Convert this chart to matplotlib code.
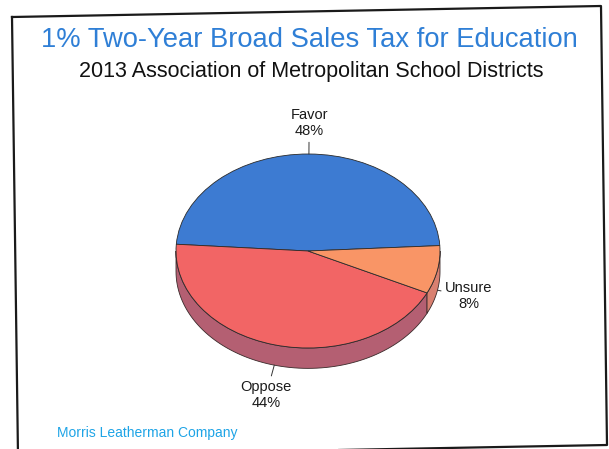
import numpy as np
import matplotlib
matplotlib.use("Agg")
from matplotlib import pyplot as plt
from matplotlib.lines import Line2D

# data
labels = ["Favor", "Oppose", "Unsure"]
shares = [48, 44, 8]
top_colors = ["#3d7bd2", "#f26565", "#f99566"]
side_colors = ["#2f5ea3", "#b45f72", "#d98070"]

title = "1% Two-Year Broad Sales Tax for Education"
subtitle = "2013 Association of Metropolitan School Districts"
footer = "Morris Leatherman Company"

plt.rcParams["font.family"] = ["Liberation Sans", "DejaVu Sans"]

W, H = 609, 449
fig = plt.figure(figsize=(W / 100, H / 100), dpi=100)
fig.patch.set_facecolor("white")

# scanned border (slightly rotated)
bx = np.array([12, 601, 607, 18, 12]) / W
by = 1 - np.array([17, 6, 445, 456, 17]) / H
fig.add_artist(Line2D(bx, by, color="#1a1a1a", lw=1.6, transform=fig.transFigure))

fig.text(309 / W, 1 - 40 / H, title, color="#2f7fd6", fontsize=19.7,
         ha="center", va="center")
fig.text(311 / W, 1 - 72 / H, subtitle, color="#111111", fontsize=15.5,
         ha="center", va="center")
fig.text(57 / W, 1 - 433 / H, footer, color="#1ea4e6", fontsize=10,
         ha="left", va="center")

# pie axes: ellipse rx=132px, ry=97px, centre at (308, 251)
cx, cy, rx, ry = 308, 251, 132, 97
x0, x1, y0, y1 = -1.05, 1.05, -1.3, 1.05
left = cx + x0 * rx
top = cy - y1 * ry
ax = fig.add_axes([left / W, 1 - (top + (y1 - y0) * ry) / H,
                   (x1 - x0) * rx / W, (y1 - y0) * ry / H])
depth = 0.21
start = 3.2

edges = start + 360 * np.concatenate([[0], np.cumsum(shares)]) / sum(shares)

# side walls (front half only)
for i in range(len(shares)):
    a0, a1 = edges[i], edges[i + 1]
    for w0, w1 in [(180, 360), (540, 720)]:
        lo, hi = max(a0, w0), min(a1, w1)
        if hi <= lo:
            continue
        t = np.radians(np.linspace(lo, hi, 80))
        xs = np.concatenate([np.cos(t), np.cos(t[::-1])])
        ys = np.concatenate([np.sin(t), np.sin(t[::-1]) - depth])
        ax.fill(xs, ys, facecolor=side_colors[i], edgecolor="#3a2a2a",
                lw=0.6, zorder=1)

ax.pie(shares, startangle=start, colors=top_colors, radius=1,
       wedgeprops=dict(edgecolor="#2a2a2a", linewidth=0.6, zorder=2))

# labels with leader lines
for i, lab in enumerate(labels):
    m = np.radians((edges[i] + edges[i + 1]) / 2)
    px, py = np.cos(m), np.sin(m)
    if py < 0:
        py -= depth
    ax.annotate(f"{lab}\n{shares[i]}%", xy=(px, py),
                xytext=(32 * np.cos(m), 31 * np.sin(m)),
                textcoords="offset pixels", ha="center", va="center",
                fontsize=10.5, color="#1a1a1a", annotation_clip=False,
                arrowprops=dict(arrowstyle="-", color="#333333", lw=0.7,
                                shrinkA=1, shrinkB=0))

ax.set_aspect("auto")
ax.set_xlim(x0, x1)
ax.set_ylim(y0, y1)
ax.axis("off")

fig.savefig("out.png", dpi=100)
